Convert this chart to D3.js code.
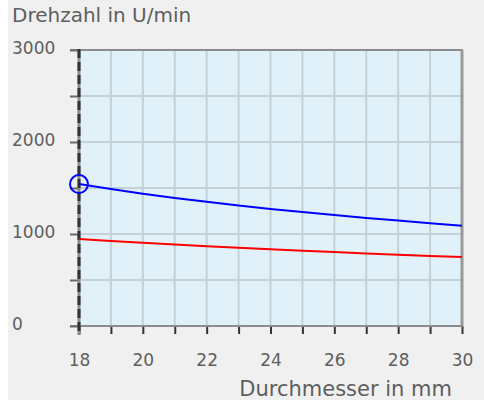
<!DOCTYPE html>
<html>
<head>
<meta charset="utf-8">
<script src="https://cdn.jsdelivr.net/npm/d3@7"></script>
<style>
  body { margin: 0; background: #fff; }
  text { font-family: "DejaVu Sans", Verdana, sans-serif; fill: #5e5e5e; }
</style>
</head>
<body>
<div id="chart"></div>
<script>
// Durchmesser in mm
const durchmesser = [18, 19, 20, 21, 22, 23, 24, 25, 26, 27, 28, 29, 30];
// Drehzahl (blau) in U/min
const drehzahlBlau = [1543, 1488, 1438, 1392, 1350, 1310, 1273, 1238, 1206, 1175, 1146, 1117, 1090];
// Drehzahl (rot) in U/min
const drehzahlRot = [946, 924, 904, 885, 867, 850, 834, 818, 803, 789, 775, 762, 750];
const yTicks = [0, 500, 1000, 1500, 2000, 2500, 3000];
const yLabels = [0, 1000, 2000, 3000];
const xLabels = [18, 20, 22, 24, 26, 28, 30];
// markierter Punkt
const marker = { d: 18, n: 1543 };

const W = 484, H = 403;
const plotLeft = 79, plotRight = 462, plotTop = 50, plotBottom = 326;

const svg = d3.select("#chart").append("svg")
    .attr("width", W)
    .attr("height", H);

// grey panel
svg.append("rect")
    .attr("x", 8).attr("y", 0)
    .attr("width", W - 8).attr("height", 400)
    .attr("fill", "#f0f0f0");

const x = d3.scaleLinear().domain([18, 30]).range([plotLeft, plotRight]);
const y = d3.scaleLinear().domain([0, 3000]).range([plotBottom, plotTop]);

// plot background
svg.append("rect")
    .attr("x", x(18)).attr("y", y(3000))
    .attr("width", x(30) - x(18)).attr("height", y(0) - y(3000))
    .attr("fill", "#e0f1f9");

// grid
svg.append("g")
    .selectAll("line")
    .data(durchmesser.slice(1, -1))
    .enter().append("line")
    .attr("x1", d => x(d)).attr("x2", d => x(d))
    .attr("y1", y(3000)).attr("y2", y(0))
    .attr("stroke", "#c4d1d8").attr("stroke-width", 2);

svg.append("g")
    .selectAll("line")
    .data(yTicks.slice(1, -1))
    .enter().append("line")
    .attr("x1", x(18)).attr("x2", x(30))
    .attr("y1", d => y(d)).attr("y2", d => y(d))
    .attr("stroke", "#c4d1d8").attr("stroke-width", 2);

// frame top / right
svg.append("line")
    .attr("x1", plotLeft - 9).attr("x2", plotRight + 1)
    .attr("y1", y(3000)).attr("y2", y(3000))
    .attr("stroke", "#8c8c8c").attr("stroke-width", 2);
svg.append("line")
    .attr("x1", x(30)).attr("x2", x(30))
    .attr("y1", y(3000)).attr("y2", y(0))
    .attr("stroke", "#9a9a9a").attr("stroke-width", 3);

// x axis
const xAxis = svg.append("g")
    .attr("transform", "translate(0," + y(0) + ")")
    .call(d3.axisBottom(x)
        .tickValues(durchmesser)
        .tickSize(8)
        .tickFormat(d => xLabels.includes(d) ? d : ""));
xAxis.select(".domain").remove();
xAxis.selectAll(".tick line").attr("stroke", "#333").attr("stroke-width", 2);
xAxis.selectAll(".tick text")
    .attr("y", 34).attr("dy", "0.35em")
    .style("font-size", "17px")
    .style("font-family", "DejaVu Sans");
xAxis.append("line")
    .attr("x1", plotLeft - 9).attr("x2", plotRight + 1)
    .attr("y1", 0).attr("y2", 0)
    .attr("stroke", "#8c8c8c").attr("stroke-width", 2);

// y axis
const yAxis = svg.append("g")
    .attr("transform", "translate(" + plotLeft + ",0)")
    .call(d3.axisLeft(y)
        .tickValues(yTicks)
        .tickSize(9)
        .tickFormat(d => yLabels.includes(d) ? d : ""));
yAxis.select(".domain").remove();
yAxis.selectAll(".tick line").attr("stroke", "#6a6a6a").attr("stroke-width", 2);
yAxis.selectAll(".tick text")
    .attr("x", 12 - plotLeft).attr("dy", "0.2em")
    .attr("text-anchor", "start")
    .style("font-size", "17px")
    .style("font-family", "DejaVu Sans");

// left axis line (grey with dark dashes)
svg.append("line")
    .attr("x1", plotLeft).attr("x2", plotLeft)
    .attr("y1", y(3000) - 1).attr("y2", y(0) + 9)
    .attr("stroke", "#8a8a8a").attr("stroke-width", 3);
svg.append("line")
    .attr("x1", plotLeft).attr("x2", plotLeft)
    .attr("y1", y(3000) - 1).attr("y2", y(0) + 9)
    .attr("stroke", "#333").attr("stroke-width", 3)
    .attr("stroke-dasharray", "9,4");

// curves
const line = d3.line()
    .x((d, i) => x(durchmesser[i]))
    .y(d => y(d));

svg.append("path")
    .datum(drehzahlRot)
    .attr("d", line)
    .attr("fill", "none")
    .attr("stroke", "#ff0000")
    .attr("stroke-width", 2);

svg.append("path")
    .datum(drehzahlBlau)
    .attr("d", line)
    .attr("fill", "none")
    .attr("stroke", "#0000ff")
    .attr("stroke-width", 2);

svg.append("circle")
    .attr("cx", x(marker.d)).attr("cy", y(marker.n))
    .attr("r", 9)
    .attr("fill", "none")
    .attr("stroke", "#0000ff")
    .attr("stroke-width", 2);

// axis titles
svg.append("text")
    .attr("x", 12).attr("y", 22)
    .style("font-size", "20px")
    .text("Drehzahl in U/min");

svg.append("text")
    .attr("x", 452).attr("y", 396)
    .attr("text-anchor", "end")
    .style("font-size", "21px")
    .text("Durchmesser in mm");
</script>
</body>
</html>
